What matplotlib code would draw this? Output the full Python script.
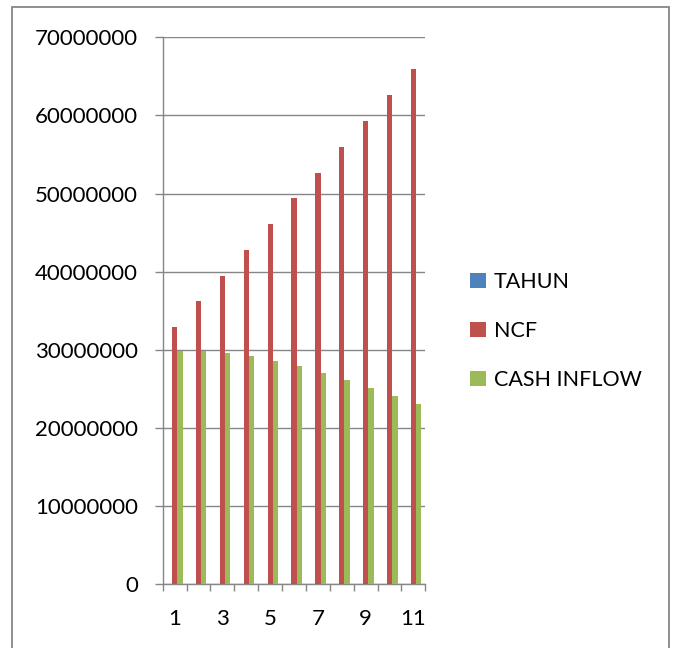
import matplotlib.pyplot as plt
import numpy as np
from matplotlib.patches import Rectangle

# data per year
tahun = [1, 2, 3, 4, 5, 6, 7, 8, 9, 10, 11]
ncf = [32900000, 36200000, 39500000, 42800000, 46100000, 49400000,
       52700000, 56000000, 59300000, 62600000, 65900000]
cash_inflow = [29900000, 29900000, 29650000, 29250000, 28600000, 27900000,
               27050000, 26100000, 25100000, 24100000, 23050000]
series_names = ['TAHUN', 'NCF', 'CASH INFLOW']
series_colors = ['#4F81BD', '#C0504D', '#9BBB59']
x_labels = [str(t) if t % 2 == 1 else '' for t in tahun]
y_ticks = [0, 10000000, 20000000, 30000000, 40000000, 50000000, 60000000, 70000000]

plt.rcParams['font.family'] = ['Lato', 'DejaVu Sans']
grey = '#868686'

fig = plt.figure(figsize=(6.74, 6.48), dpi=100)
ax = fig.add_axes([0.2414, 0.0983, 0.3897, 0.8441])

x = np.arange(len(tahun))
w = 1 / 4.5  # gap width 150%
for i, (vals, name, col) in enumerate(zip([tahun, ncf, cash_inflow], series_names, series_colors)):
    ax.bar(x + (i - 1) * w, vals, width=w, color=col, label=name, zorder=3)

ax.set_xlim(-0.5, len(tahun) - 0.5)
ax.set_ylim(0, 70000000)
ax.set_yticks(y_ticks)
ax.set_yticklabels([str(v) for v in y_ticks])
ax.set_xticks(x)
ax.set_xticklabels(x_labels)
ax.set_xticks(np.arange(-0.5, len(tahun)), minor=True)

ax.tick_params(axis='y', direction='out', length=5.8, width=1, color=grey,
               labelsize=16, pad=12)
ax.tick_params(axis='x', which='major', length=0, labelsize=16, pad=18)
ax.tick_params(axis='x', which='minor', direction='out', length=5, width=1, color=grey)

ax.grid(axis='y', color=grey, linewidth=1, zorder=0)
for s in ['top', 'right']:
    ax.spines[s].set_visible(False)
for s in ['left', 'bottom']:
    ax.spines[s].set_color(grey)
    ax.spines[s].set_linewidth(1)

leg = ax.legend(loc='center left', bbox_to_anchor=(0.685, 0.489),
                bbox_transform=fig.transFigure, frameon=False, fontsize=15.5,
                handlelength=0.73, handleheight=0.73, handletextpad=0.35,
                labelspacing=1.35, borderaxespad=0)

# outer chart border
fig.patches.append(Rectangle((12.5 / 674, -0.05), (669 - 12.5) / 674, 1.05 - 7 / 648,
                             transform=fig.transFigure, fill=False,
                             edgecolor=grey, linewidth=1.3))

fig.savefig('out.png', dpi=100)
